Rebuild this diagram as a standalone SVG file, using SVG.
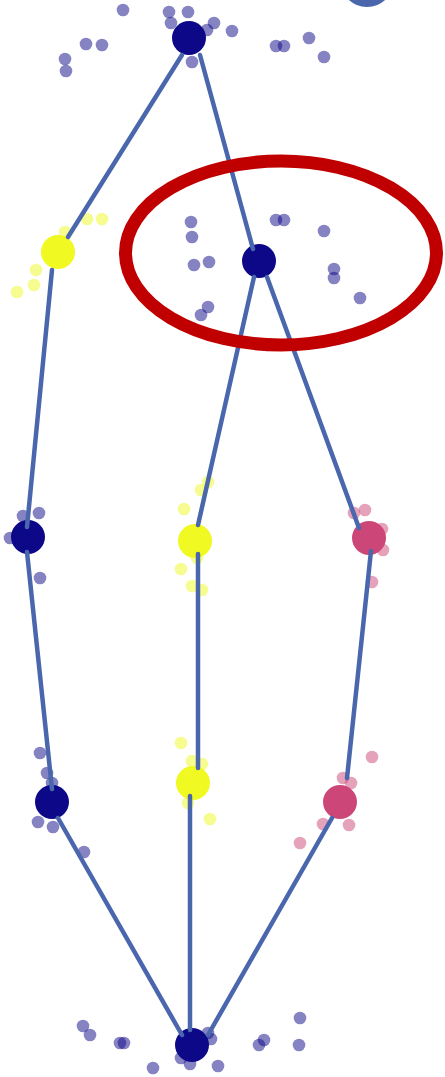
<svg xmlns="http://www.w3.org/2000/svg" width="445" height="1077" viewBox="0 0 445 1077">
<style>
.e{stroke:#4a67ae;stroke-width:4.5;stroke-linecap:round;fill:none}
.n{fill:#0d0887}
.y{fill:#f0f921}
.p{fill:#cc4778}
.dn{fill:#0d0887;opacity:0.5}
.dy{fill:#f0f921;opacity:0.5}
.dp{fill:#cc4778;opacity:0.5}
</style>
<rect width="445" height="1077" fill="#ffffff"/>
<circle cx="367" cy="-20" r="27" fill="#4a67ae"/>
<g id="dots">
<circle class="dn" cx="123" cy="10" r="6.3"/>
<circle class="dn" cx="169" cy="12" r="6.3"/>
<circle class="dn" cx="188" cy="12" r="6.3"/>
<circle class="dn" cx="171" cy="23" r="6.3"/>
<circle class="dn" cx="207" cy="30" r="6.3"/>
<circle class="dn" cx="214" cy="23" r="6.3"/>
<circle class="dn" cx="232" cy="31" r="6.3"/>
<circle class="dn" cx="86" cy="44" r="6.3"/>
<circle class="dn" cx="102" cy="45" r="6.3"/>
<circle class="dn" cx="65" cy="59" r="6.3"/>
<circle class="dn" cx="66" cy="71" r="6.3"/>
<circle class="dn" cx="192" cy="62" r="6.3"/>
<circle class="dn" cx="276" cy="46" r="6.3"/>
<circle class="dn" cx="284" cy="46" r="6.3"/>
<circle class="dn" cx="309" cy="38" r="6.3"/>
<circle class="dn" cx="324" cy="57" r="6.3"/>
<circle class="dy" cx="87" cy="219" r="6.3"/>
<circle class="dy" cx="102" cy="219" r="6.3"/>
<circle class="dy" cx="65" cy="232" r="6.3"/>
<circle class="dy" cx="36" cy="270" r="6.3"/>
<circle class="dy" cx="34" cy="285" r="6.3"/>
<circle class="dy" cx="17" cy="292" r="6.3"/>
<circle class="dn" cx="191" cy="222" r="6.3"/>
<circle class="dn" cx="192" cy="237" r="6.3"/>
<circle class="dn" cx="194" cy="265" r="6.3"/>
<circle class="dn" cx="209" cy="262" r="6.3"/>
<circle class="dn" cx="208" cy="307" r="6.3"/>
<circle class="dn" cx="201" cy="315" r="6.3"/>
<circle class="dn" cx="276" cy="220" r="6.3"/>
<circle class="dn" cx="284" cy="220" r="6.3"/>
<circle class="dn" cx="324" cy="231" r="6.3"/>
<circle class="dn" cx="334" cy="269" r="6.3"/>
<circle class="dn" cx="334" cy="278" r="6.3"/>
<circle class="dn" cx="360" cy="298" r="6.3"/>
<circle class="dn" cx="23" cy="516" r="6.3"/>
<circle class="dn" cx="39" cy="513" r="6.3"/>
<circle class="dn" cx="10" cy="538" r="6.3"/>
<circle class="dn" cx="40" cy="578" r="6.3"/>
<circle class="dy" cx="208" cy="482" r="6.3"/>
<circle class="dy" cx="201" cy="490" r="6.3"/>
<circle class="dy" cx="184" cy="509" r="6.3"/>
<circle class="dy" cx="197" cy="558" r="6.3"/>
<circle class="dy" cx="181" cy="569" r="6.3"/>
<circle class="dy" cx="192" cy="586" r="6.3"/>
<circle class="dy" cx="202" cy="590" r="6.3"/>
<circle class="dp" cx="354" cy="513" r="6.3"/>
<circle class="dp" cx="365" cy="510" r="6.3"/>
<circle class="dp" cx="382" cy="529" r="6.3"/>
<circle class="dp" cx="383" cy="550" r="6.3"/>
<circle class="dp" cx="372" cy="582" r="6.3"/>
<circle class="dn" cx="40" cy="753" r="6.3"/>
<circle class="dn" cx="47" cy="773" r="6.3"/>
<circle class="dn" cx="52" cy="783" r="6.3"/>
<circle class="dn" cx="38" cy="822" r="6.3"/>
<circle class="dn" cx="53" cy="827" r="6.3"/>
<circle class="dn" cx="84" cy="852" r="6.3"/>
<circle class="dy" cx="181" cy="743" r="6.3"/>
<circle class="dy" cx="192" cy="761" r="6.3"/>
<circle class="dy" cx="202" cy="764" r="6.3"/>
<circle class="dy" cx="188" cy="803" r="6.3"/>
<circle class="dy" cx="210" cy="819" r="6.3"/>
<circle class="dp" cx="372" cy="757" r="6.3"/>
<circle class="dp" cx="343" cy="778" r="6.3"/>
<circle class="dp" cx="351" cy="783" r="6.3"/>
<circle class="dp" cx="323" cy="824" r="6.3"/>
<circle class="dp" cx="349" cy="825" r="6.3"/>
<circle class="dp" cx="300" cy="843" r="6.3"/>
<circle class="dn" cx="83" cy="1026" r="6.3"/>
<circle class="dn" cx="90" cy="1035" r="6.3"/>
<circle class="dn" cx="120" cy="1043" r="6.3"/>
<circle class="dn" cx="124" cy="1043" r="6.3"/>
<circle class="dn" cx="153" cy="1068" r="6.3"/>
<circle class="dn" cx="181" cy="1058" r="6.3"/>
<circle class="dn" cx="190" cy="1064" r="6.3"/>
<circle class="dn" cx="208" cy="1033" r="6.3"/>
<circle class="dn" cx="211" cy="1039" r="6.3"/>
<circle class="dn" cx="218" cy="1066" r="6.3"/>
<circle class="dn" cx="259" cy="1045" r="6.3"/>
<circle class="dn" cx="264" cy="1040" r="6.3"/>
<circle class="dn" cx="300" cy="1018" r="6.3"/>
<circle class="dn" cx="299" cy="1045" r="6.3"/>
</g>
<g id="n1"><circle class="n" cx="189" cy="38" r="17"/></g>
<g id="n2"><circle class="n" cx="259" cy="261" r="17"/></g>
<g id="y1"><circle class="y" cx="58" cy="252" r="17"/></g>
<g id="l2"><circle class="n" cx="28" cy="537" r="17"/></g>
<g id="y2"><circle class="y" cx="195" cy="541" r="17"/></g>
<g id="p1"><circle class="p" cx="369" cy="538" r="17"/></g>
<g id="l3"><circle class="n" cx="52" cy="802" r="17"/></g>
<g id="y3"><circle class="y" cx="193" cy="783" r="17"/></g>
<g id="p2"><circle class="p" cx="340" cy="802" r="17"/></g>
<g id="b"><circle class="n" cx="192" cy="1045" r="17"/></g>
<g id="connectors">
<line class="e" x1="182" y1="55" x2="68" y2="237"/>
<line class="e" x1="200" y1="55" x2="253" y2="249"/>
<line class="e" x1="52" y1="270" x2="27" y2="527"/>
<line class="e" x1="254" y1="277" x2="198" y2="525"/>
<line class="e" x1="267" y1="277" x2="359" y2="528"/>
<line class="e" x1="27" y1="552" x2="52" y2="789"/>
<line class="e" x1="198" y1="554" x2="198" y2="768"/>
<line class="e" x1="371" y1="551" x2="347" y2="778"/>
<line class="e" x1="58" y1="818" x2="182" y2="1035"/>
<line class="e" x1="190" y1="796" x2="190" y2="1030"/>
<line class="e" x1="332" y1="818" x2="208" y2="1035"/>
</g>
<g id="highlight">
<ellipse cx="281" cy="253" rx="155.5" ry="92" fill="none" stroke="#c00000" stroke-width="13"/>
</g>
</svg>
